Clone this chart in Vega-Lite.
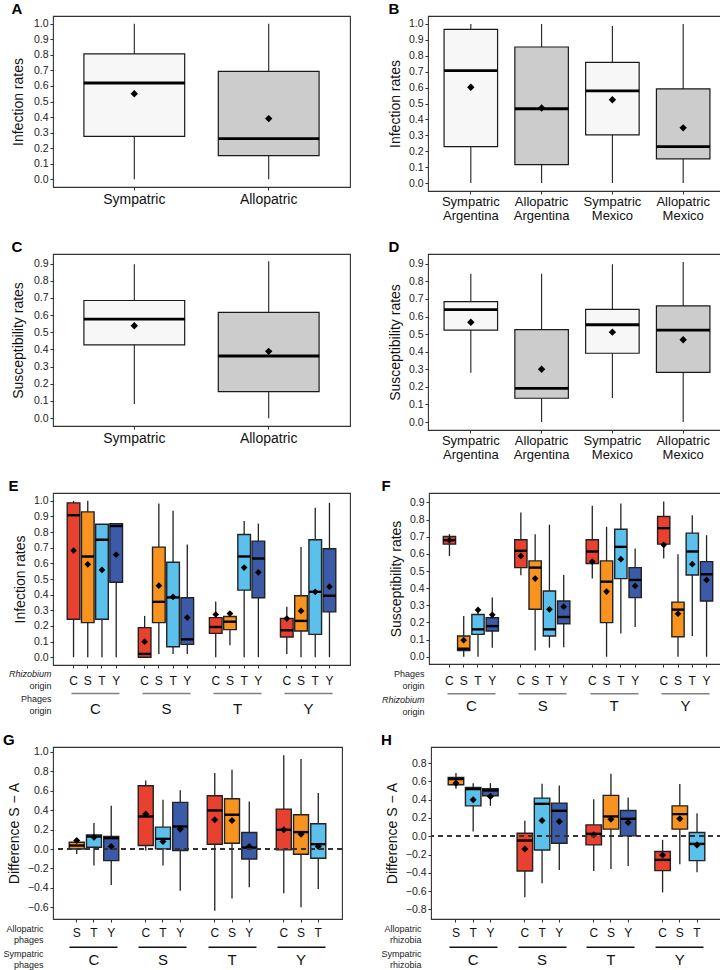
{
 "$schema": "https://vega.github.io/schema/vega-lite/v6.json",
 "padding": {"left": 2, "top": 1, "right": 2, "bottom": 0},
 "background": "white",
 "config": {
  "font": "Liberation Sans",
  "view": {"stroke": "#333", "strokeWidth": 1.1},
  "axis": {"grid": false, "domain": false, "tickColor": "#333", "labelColor": "#222", "titleColor": "#111", "titleFontWeight": "normal"},
  "axisY": {"labelFontSize": 10.5, "labelPadding": 2, "tickSize": 3, "titleFontSize": 14, "titlePadding": 6, "labelOverlap": false, "tickCount": 20},
  "axisX": {"tickSize": 3, "labelAngle": 0},
  "title": {"fontSize": 15, "fontWeight": "bold", "anchor": "start", "offset": -1, "color": "#000"}
 },
 "datasets": {
  "A": [
   {"cat": "Sympatric", "type": "Sympatric", "lo": 0, "q1": 0.276, "med": 0.619, "q3": 0.807, "hi": 1.0, "mean": 0.55},
   {"cat": "Allopatric", "type": "Allopatric", "lo": 0, "q1": 0.152, "med": 0.261, "q3": 0.694, "hi": 1.0, "mean": 0.39}
  ],
  "B": [
   {"cat": "Sympatric Argentina", "type": "Sympatric", "lo": 0, "q1": 0.229, "med": 0.707, "q3": 0.966, "hi": 1.0, "mean": 0.602},
   {"cat": "Allopatric Argentina", "type": "Allopatric", "lo": 0, "q1": 0.116, "med": 0.467, "q3": 0.855, "hi": 1.0, "mean": 0.472},
   {"cat": "Sympatric Mexico", "type": "Sympatric", "lo": 0, "q1": 0.303, "med": 0.579, "q3": 0.758, "hi": 0.987, "mean": 0.524},
   {"cat": "Allopatric Mexico", "type": "Allopatric", "lo": 0, "q1": 0.152, "med": 0.229, "q3": 0.592, "hi": 1.0, "mean": 0.347}
  ],
  "C": [
   {"cat": "Sympatric", "type": "Sympatric", "lo": 0.082, "q1": 0.427, "med": 0.577, "q3": 0.685, "hi": 0.896, "mean": 0.538},
   {"cat": "Allopatric", "type": "Allopatric", "lo": 0, "q1": 0.155, "med": 0.362, "q3": 0.616, "hi": 0.914, "mean": 0.389}
  ],
  "D": [
   {"cat": "Sympatric Argentina", "type": "Sympatric", "lo": 0.28, "q1": 0.523, "med": 0.639, "q3": 0.685, "hi": 0.843, "mean": 0.567},
   {"cat": "Allopatric Argentina", "type": "Allopatric", "lo": 0, "q1": 0.135, "med": 0.191, "q3": 0.525, "hi": 0.843, "mean": 0.30},
   {"cat": "Sympatric Mexico", "type": "Sympatric", "lo": 0.137, "q1": 0.391, "med": 0.553, "q3": 0.641, "hi": 0.897, "mean": 0.511},
   {"cat": "Allopatric Mexico", "type": "Allopatric", "lo": 0, "q1": 0.282, "med": 0.523, "q3": 0.66, "hi": 0.91, "mean": 0.468}
  ],
  "E": [
   {"key": "CC", "grp": "C", "sub": "C", "lo": 0, "q1": 0.243, "med": 0.908, "q3": 0.987, "hi": 1.0, "mean": 0.682},
   {"key": "CS", "grp": "C", "sub": "S", "lo": 0, "q1": 0.221, "med": 0.644, "q3": 0.929, "hi": 1.0, "mean": 0.594},
   {"key": "CT", "grp": "C", "sub": "T", "lo": 0, "q1": 0.243, "med": 0.751, "q3": 0.85, "hi": 0.85, "mean": 0.558},
   {"key": "CY", "grp": "C", "sub": "Y", "lo": 0, "q1": 0.479, "med": 0.839, "q3": 0.854, "hi": 0.854, "mean": 0.655},
   {"key": "SC", "grp": "S", "sub": "C", "lo": 0, "q1": 0.0, "med": 0.021, "q3": 0.189, "hi": 0.264, "mean": 0.099},
   {"key": "SS", "grp": "S", "sub": "S", "lo": 0.021, "q1": 0.221, "med": 0.354, "q3": 0.704, "hi": 0.983, "mean": 0.457},
   {"key": "ST", "grp": "S", "sub": "T", "lo": 0.021, "q1": 0.067, "med": 0.382, "q3": 0.607, "hi": 0.936, "mean": 0.386},
   {"key": "SY", "grp": "S", "sub": "Y", "lo": 0.021, "q1": 0.082, "med": 0.114, "q3": 0.38, "hi": 0.721, "mean": 0.253},
   {"key": "TC", "grp": "T", "sub": "C", "lo": 0, "q1": 0.152, "med": 0.193, "q3": 0.253, "hi": 0.356, "mean": 0.273},
   {"key": "TS", "grp": "T", "sub": "S", "lo": 0.077, "q1": 0.176, "med": 0.227, "q3": 0.26, "hi": 0.28, "mean": 0.279},
   {"key": "TT", "grp": "T", "sub": "T", "lo": 0, "q1": 0.429, "med": 0.644, "q3": 0.785, "hi": 0.871, "mean": 0.573},
   {"key": "TY", "grp": "T", "sub": "Y", "lo": 0, "q1": 0.38, "med": 0.631, "q3": 0.742, "hi": 0.854, "mean": 0.543},
   {"key": "YC", "grp": "Y", "sub": "C", "lo": 0.021, "q1": 0.129, "med": 0.172, "q3": 0.247, "hi": 0.322, "mean": 0.247},
   {"key": "YS", "grp": "Y", "sub": "S", "lo": 0, "q1": 0.167, "med": 0.232, "q3": 0.393, "hi": 0.704, "mean": 0.296},
   {"key": "YT", "grp": "Y", "sub": "T", "lo": 0, "q1": 0.146, "med": 0.418, "q3": 0.751, "hi": 0.955, "mean": 0.418},
   {"key": "YY", "grp": "Y", "sub": "Y", "lo": 0, "q1": 0.29, "med": 0.393, "q3": 0.693, "hi": 0.987, "mean": 0.451}
  ],
  "F": [
   {"key": "CC", "grp": "C", "sub": "C", "lo": 0.588, "q1": 0.657, "med": 0.68, "q3": 0.701, "hi": 0.715, "mean": 0.68},
   {"key": "CS", "grp": "C", "sub": "S", "lo": 0, "q1": 0.037, "med": 0.047, "q3": 0.121, "hi": 0.238, "mean": 0.097},
   {"key": "CT", "grp": "C", "sub": "T", "lo": 0, "q1": 0.131, "med": 0.16, "q3": 0.247, "hi": 0.28, "mean": 0.273},
   {"key": "CY", "grp": "C", "sub": "Y", "lo": 0.053, "q1": 0.15, "med": 0.179, "q3": 0.228, "hi": 0.345, "mean": 0.245},
   {"key": "SC", "grp": "S", "sub": "C", "lo": 0.475, "q1": 0.52, "med": 0.618, "q3": 0.682, "hi": 0.842, "mean": 0.588},
   {"key": "SS", "grp": "S", "sub": "S", "lo": 0.037, "q1": 0.277, "med": 0.52, "q3": 0.559, "hi": 0.715, "mean": 0.456},
   {"key": "ST", "grp": "S", "sub": "T", "lo": 0.053, "q1": 0.121, "med": 0.16, "q3": 0.384, "hi": 0.77, "mean": 0.277},
   {"key": "SY", "grp": "S", "sub": "Y", "lo": 0.056, "q1": 0.193, "med": 0.232, "q3": 0.325, "hi": 0.477, "mean": 0.292},
   {"key": "TC", "grp": "T", "sub": "C", "lo": 0.456, "q1": 0.544, "med": 0.614, "q3": 0.682, "hi": 0.881, "mean": 0.555},
   {"key": "TS", "grp": "T", "sub": "S", "lo": 0, "q1": 0.199, "med": 0.438, "q3": 0.559, "hi": 0.758, "mean": 0.38},
   {"key": "TT", "grp": "T", "sub": "T", "lo": 0.136, "q1": 0.456, "med": 0.641, "q3": 0.744, "hi": 0.894, "mean": 0.569},
   {"key": "TY", "grp": "T", "sub": "Y", "lo": 0.173, "q1": 0.345, "med": 0.448, "q3": 0.52, "hi": 0.631, "mean": 0.413},
   {"key": "YC", "grp": "Y", "sub": "C", "lo": 0.573, "q1": 0.657, "med": 0.75, "q3": 0.818, "hi": 0.906, "mean": 0.653},
   {"key": "YS", "grp": "Y", "sub": "S", "lo": 0, "q1": 0.117, "med": 0.275, "q3": 0.319, "hi": 0.598, "mean": 0.251},
   {"key": "YT", "grp": "Y", "sub": "T", "lo": 0.121, "q1": 0.477, "med": 0.614, "q3": 0.721, "hi": 0.826, "mean": 0.54},
   {"key": "YY", "grp": "Y", "sub": "Y", "lo": 0, "q1": 0.325, "med": 0.481, "q3": 0.555, "hi": 0.709, "mean": 0.448}
  ],
  "G": [
   {"key": "CS", "grp": "C", "sub": "S", "lo": -0.05, "q1": 0.0, "med": 0.036, "q3": 0.07, "hi": 0.09, "mean": 0.088},
   {"key": "CT", "grp": "C", "sub": "T", "lo": -0.17, "q1": 0.019, "med": 0.129, "q3": 0.146, "hi": 0.267, "mean": 0.122},
   {"key": "CY", "grp": "C", "sub": "Y", "lo": -0.37, "q1": -0.119, "med": 0.112, "q3": 0.129, "hi": 0.446, "mean": 0.026},
   {"key": "SC", "grp": "S", "sub": "C", "lo": -0.015, "q1": 0.036, "med": 0.335, "q3": 0.652, "hi": 0.704, "mean": 0.36},
   {"key": "ST", "grp": "S", "sub": "T", "lo": -0.17, "q1": 0.002, "med": 0.105, "q3": 0.225, "hi": 0.508, "mean": 0.077},
   {"key": "SY", "grp": "S", "sub": "Y", "lo": -0.43, "q1": -0.015, "med": 0.232, "q3": 0.48, "hi": 0.604, "mean": 0.205},
   {"key": "TC", "grp": "T", "sub": "C", "lo": -0.635, "q1": 0.05, "med": 0.397, "q3": 0.549, "hi": 0.783, "mean": 0.301},
   {"key": "TS", "grp": "T", "sub": "S", "lo": -0.508, "q1": 0.06, "med": 0.353, "q3": 0.518, "hi": 0.817, "mean": 0.294},
   {"key": "TY", "grp": "T", "sub": "Y", "lo": -0.394, "q1": -0.102, "med": 0.015, "q3": 0.17, "hi": 0.49, "mean": 0.026},
   {"key": "YC", "grp": "Y", "sub": "C", "lo": -0.456, "q1": -0.009, "med": 0.198, "q3": 0.411, "hi": 0.965, "mean": 0.198},
   {"key": "YS", "grp": "Y", "sub": "S", "lo": -0.6, "q1": -0.053, "med": 0.174, "q3": 0.353, "hi": 0.927, "mean": 0.153},
   {"key": "YT", "grp": "Y", "sub": "T", "lo": -0.411, "q1": -0.095, "med": 0.05, "q3": 0.26, "hi": 0.576, "mean": 0.026}
  ],
  "H": [
   {"key": "CS", "grp": "C", "sub": "S", "lo": 0.519, "q1": 0.563, "med": 0.625, "q3": 0.643, "hi": 0.69, "mean": 0.58},
   {"key": "CT", "grp": "C", "sub": "T", "lo": 0.051, "q1": 0.332, "med": 0.515, "q3": 0.533, "hi": 0.58, "mean": 0.398},
   {"key": "CY", "grp": "C", "sub": "Y", "lo": 0.332, "q1": 0.442, "med": 0.50, "q3": 0.519, "hi": 0.58, "mean": 0.435},
   {"key": "SC", "grp": "S", "sub": "C", "lo": -0.668, "q1": -0.38, "med": -0.047, "q3": 0.033, "hi": 0.168, "mean": -0.139},
   {"key": "ST", "grp": "S", "sub": "T", "lo": -0.515, "q1": -0.15, "med": 0.354, "q3": 0.416, "hi": 0.574, "mean": 0.172},
   {"key": "SY", "grp": "S", "sub": "Y", "lo": -0.369, "q1": -0.077, "med": 0.278, "q3": 0.362, "hi": 0.555, "mean": 0.161},
   {"key": "TC", "grp": "T", "sub": "C", "lo": -0.38, "q1": -0.095, "med": 0.026, "q3": 0.124, "hi": 0.405, "mean": 0.015},
   {"key": "TS", "grp": "T", "sub": "S", "lo": -0.358, "q1": 0.077, "med": 0.216, "q3": 0.446, "hi": 0.683, "mean": 0.186},
   {"key": "TY", "grp": "T", "sub": "Y", "lo": -0.325, "q1": 0.004, "med": 0.19, "q3": 0.281, "hi": 0.424, "mean": 0.15},
   {"key": "YC", "grp": "Y", "sub": "C", "lo": -0.614, "q1": -0.376, "med": -0.259, "q3": -0.168, "hi": -0.04, "mean": -0.205},
   {"key": "YS", "grp": "Y", "sub": "S", "lo": -0.307, "q1": 0.077, "med": 0.241, "q3": 0.332, "hi": 0.57, "mean": 0.19},
   {"key": "YT", "grp": "Y", "sub": "T", "lo": -0.395, "q1": -0.267, "med": -0.084, "q3": 0.04, "hi": 0.252, "mean": -0.095}
  ]
 },
 "resolve": {"scale": {"fill": "independent"}},
 "spacing": 13,
 "vconcat": [
  {"spacing": 16, "resolve": {"scale": {"fill": "independent"}}, "vconcat": [
  {"spacing": 36, "hconcat": [
   {"title": "A", "width": 297, "height": 171, "data": {"name": "A"},
    "encoding": {"x": {"field": "cat", "type": "nominal", "sort": null, "scale": {"domain": ["Sympatric", "Allopatric"], "paddingInner": 0.25, "paddingOuter": 0.23}, "axis": {"title": null, "labelFontSize": 14, "labelPadding": 2, "labelColor": "#111"}}},
    "layer": [
     {"mark": {"type": "rule", "color": "#222", "strokeWidth": 1.1}, "encoding": {"y": {"field": "lo", "type": "quantitative", "title": "Infection rates", "scale": {"domain": [-0.05, 1.05], "nice": false, "zero": false}, "axis": {"values": [0, 0.1, 0.2, 0.3, 0.4, 0.5, 0.6, 0.7, 0.8, 0.9, 1], "tickCount": 20, "format": ".1f", "labelOverlap": false, "titlePadding": 8}}, "y2": {"field": "hi"}}},
     {"mark": {"type": "bar", "stroke": "#1a1a1a", "strokeWidth": 1.2}, "encoding": {"y": {"field": "q1", "type": "quantitative", "title": "Infection rates"}, "y2": {"field": "q3"}, "fill": {"field": "type", "type": "nominal", "scale": {"domain": ["Sympatric", "Allopatric"], "range": ["#f7f7f7", "#cccccc"]}, "legend": null}}},
     {"mark": {"type": "tick", "color": "#000", "thickness": 2.8, "size": 101, "opacity": 1}, "encoding": {"y": {"field": "med", "type": "quantitative", "title": "Infection rates"}}},
     {"mark": {"type": "point", "shape": "diamond", "filled": true, "color": "#000", "size": 55, "opacity": 1}, "encoding": {"y": {"field": "mean", "type": "quantitative", "title": "Infection rates"}}}
    ]},
   {"title": "B", "width": 298, "height": 175, "data": {"name": "B"},
    "encoding": {"x": {"field": "cat", "type": "nominal", "sort": null, "scale": {"domain": ["Sympatric Argentina", "Allopatric Argentina", "Sympatric Mexico", "Allopatric Mexico"], "paddingInner": 0.244, "paddingOuter": 0.227}, "axis": {"title": null, "labelFontSize": 13, "labelPadding": 1, "labelColor": "#111", "labelExpr": "split(datum.value, ' ')", "labelLineHeight": 14}}},
    "layer": [
     {"mark": {"type": "rule", "color": "#222", "strokeWidth": 1.1}, "encoding": {"y": {"field": "lo", "type": "quantitative", "title": "Infection rates", "scale": {"domain": [-0.05, 1.05], "nice": false, "zero": false}, "axis": {"values": [0, 0.1, 0.2, 0.3, 0.4, 0.5, 0.6, 0.7, 0.8, 0.9, 1], "tickCount": 20, "format": ".1f", "labelOverlap": false}}, "y2": {"field": "hi"}}},
     {"mark": {"type": "bar", "stroke": "#1a1a1a", "strokeWidth": 1.2}, "encoding": {"y": {"field": "q1", "type": "quantitative", "title": "Infection rates"}, "y2": {"field": "q3"}, "fill": {"field": "type", "type": "nominal", "scale": {"domain": ["Sympatric", "Allopatric"], "range": ["#f7f7f7", "#cccccc"]}, "legend": null}}},
     {"mark": {"type": "tick", "color": "#000", "thickness": 2.8, "size": 53.5, "opacity": 1}, "encoding": {"y": {"field": "med", "type": "quantitative", "title": "Infection rates"}}},
     {"mark": {"type": "point", "shape": "diamond", "filled": true, "color": "#000", "size": 55, "opacity": 1}, "encoding": {"y": {"field": "mean", "type": "quantitative", "title": "Infection rates"}}}
    ]}
  ]},
  {"spacing": 36, "hconcat": [
   {"title": "C", "width": 297, "height": 172, "data": {"name": "C"},
    "encoding": {"x": {"field": "cat", "type": "nominal", "sort": null, "scale": {"domain": ["Sympatric", "Allopatric"], "paddingInner": 0.25, "paddingOuter": 0.23}, "axis": {"title": null, "labelFontSize": 14, "labelPadding": 2, "labelColor": "#111"}}},
    "layer": [
     {"mark": {"type": "rule", "color": "#222", "strokeWidth": 1.1}, "encoding": {"y": {"field": "lo", "type": "quantitative", "title": "Susceptibility rates", "scale": {"domain": [-0.0455, 0.9555], "nice": false, "zero": false}, "axis": {"values": [0, 0.1, 0.2, 0.3, 0.4, 0.5, 0.6, 0.7, 0.8, 0.9], "tickCount": 20, "format": ".1f", "labelOverlap": false, "titlePadding": 8}}, "y2": {"field": "hi"}}},
     {"mark": {"type": "bar", "stroke": "#1a1a1a", "strokeWidth": 1.2}, "encoding": {"y": {"field": "q1", "type": "quantitative", "title": "Susceptibility rates"}, "y2": {"field": "q3"}, "fill": {"field": "type", "type": "nominal", "scale": {"domain": ["Sympatric", "Allopatric"], "range": ["#f7f7f7", "#cccccc"]}, "legend": null}}},
     {"mark": {"type": "tick", "color": "#000", "thickness": 2.8, "size": 101, "opacity": 1}, "encoding": {"y": {"field": "med", "type": "quantitative", "title": "Susceptibility rates"}}},
     {"mark": {"type": "point", "shape": "diamond", "filled": true, "color": "#000", "size": 55, "opacity": 1}, "encoding": {"y": {"field": "mean", "type": "quantitative", "title": "Susceptibility rates"}}}
    ]},
   {"title": "D", "width": 298, "height": 176, "data": {"name": "D"},
    "encoding": {"x": {"field": "cat", "type": "nominal", "sort": null, "scale": {"domain": ["Sympatric Argentina", "Allopatric Argentina", "Sympatric Mexico", "Allopatric Mexico"], "paddingInner": 0.244, "paddingOuter": 0.227}, "axis": {"title": null, "labelFontSize": 13, "labelPadding": 1, "labelColor": "#111", "labelExpr": "split(datum.value, ' ')", "labelLineHeight": 14}}},
    "layer": [
     {"mark": {"type": "rule", "color": "#222", "strokeWidth": 1.1}, "encoding": {"y": {"field": "lo", "type": "quantitative", "title": "Susceptibility rates", "scale": {"domain": [-0.0455, 0.9555], "nice": false, "zero": false}, "axis": {"values": [0, 0.1, 0.2, 0.3, 0.4, 0.5, 0.6, 0.7, 0.8, 0.9], "tickCount": 20, "format": ".1f", "labelOverlap": false}}, "y2": {"field": "hi"}}},
     {"mark": {"type": "bar", "stroke": "#1a1a1a", "strokeWidth": 1.2}, "encoding": {"y": {"field": "q1", "type": "quantitative", "title": "Susceptibility rates"}, "y2": {"field": "q3"}, "fill": {"field": "type", "type": "nominal", "scale": {"domain": ["Sympatric", "Allopatric"], "range": ["#f7f7f7", "#cccccc"]}, "legend": null}}},
     {"mark": {"type": "tick", "color": "#000", "thickness": 2.8, "size": 53.5, "opacity": 1}, "encoding": {"y": {"field": "med", "type": "quantitative", "title": "Susceptibility rates"}}},
     {"mark": {"type": "point", "shape": "diamond", "filled": true, "color": "#000", "size": 55, "opacity": 1}, "encoding": {"y": {"field": "mean", "type": "quantitative", "title": "Susceptibility rates"}}}
    ]}
  ]},
  {"spacing": 29, "hconcat": [
   {"title": "E", "width": 297, "height": 172, "data": {"name": "E"},
    "resolve": {"axis": {"x": "independent"}},
    "layer": [
     {"mark": {"type": "rule", "color": "#222", "strokeWidth": 1.3}, "encoding": {
       "x": {"field": "key", "type": "nominal", "scale": {"domain": ["CC", "CS", "CT", "CY", "_1", "SC", "SS", "ST", "SY", "_2", "TC", "TS", "TT", "TY", "_3", "YC", "YS", "YT", "YY"], "paddingInner": 0.11, "paddingOuter": 1.105},
        "axis": {"orient": "bottom", "values": ["CC", "CS", "CT", "CY", "SC", "SS", "ST", "SY", "TC", "TS", "TT", "TY", "YC", "YS", "YT", "YY"], "labelExpr": "substring(datum.value, 1, 2)", "labelFontSize": 12, "labelPadding": 7.6, "labelColor": "#111", "title": "Rhizobium", "titleFontStyle": "italic", "titleFontSize": 9, "titleAngle": 0, "titleAlign": "right", "titleBaseline": "top", "titleX": -2, "titleY": 4.5, "titleColor": "#222"}},
       "y": {"field": "lo", "type": "quantitative", "title": "Infection rates", "scale": {"domain": [-0.05, 1.05], "nice": false, "zero": false}, "axis": {"values": [0, 0.1, 0.2, 0.3, 0.4, 0.5, 0.6, 0.7, 0.8, 0.9, 1], "tickCount": 20, "format": ".1f", "labelOverlap": false}}, "y2": {"field": "hi"}}},
     {"mark": {"type": "bar", "stroke": "#222", "strokeWidth": 1.4}, "encoding": {
       "x": {"field": "key", "type": "nominal", "axis": {"orient": "bottom", "values": ["CS", "SS", "TS", "YS"], "tickOffset": 7.05, "offset": 27.3, "ticks": true, "tickSize": 1.5, "tickWidth": 48, "tickColor": "#808080", "labelExpr": "substring(datum.value, 0, 1)", "labelFontSize": 15, "labelColor": "#111", "labelBaseline": "alphabetic", "labelPadding": 19.6, "title": ["Phages", "origin"], "titleLineHeight": 12, "titleFontSize": 9, "titleAngle": 0, "titleAlign": "right", "titleBaseline": "top", "titleX": -2, "titleY": 2.2, "titleColor": "#222"}},
       "y": {"field": "q1", "type": "quantitative", "title": "Infection rates"}, "y2": {"field": "q3"}, "fill": {"field": "sub", "type": "nominal", "scale": {"domain": ["C", "S", "T", "Y"], "range": ["#E8412F", "#F7931E", "#5BC0EB", "#3B5BA9"]}, "legend": null}}},
     {"mark": {"type": "tick", "color": "#000", "thickness": 2.4, "size": 12.6, "opacity": 1}, "encoding": {
       "x": {"field": "key", "type": "nominal", "axis": {"orient": "bottom", "labels": false, "ticks": false, "title": "origin", "titleFontSize": 9, "titleAngle": 0, "titleAlign": "right", "titleBaseline": "top", "titleX": -2, "titleY": 16.5, "titleColor": "#222"}},
       "y": {"field": "med", "type": "quantitative", "title": "Infection rates"}}},
     {"mark": {"type": "point", "shape": "diamond", "filled": true, "color": "#000", "size": 45, "opacity": 1}, "encoding": {
       "x": {"field": "key", "type": "nominal", "axis": null},
       "y": {"field": "mean", "type": "quantitative", "title": "Infection rates"}}}
    ]},
   {"title": "F", "width": 298, "height": 171, "data": {"name": "F"},
    "resolve": {"axis": {"x": "independent"}},
    "layer": [
     {"mark": {"type": "rule", "color": "#222", "strokeWidth": 1.3}, "encoding": {
       "x": {"field": "key", "type": "nominal", "scale": {"domain": ["CC", "CS", "CT", "CY", "_1", "SC", "SS", "ST", "SY", "_2", "TC", "TS", "TT", "TY", "_3", "YC", "YS", "YT", "YY"], "paddingInner": 0.14, "paddingOuter": 1.035},
        "axis": {"orient": "bottom", "values": ["CC", "CS", "CT", "CY", "SC", "SS", "ST", "SY", "TC", "TS", "TT", "TY", "YC", "YS", "YT", "YY"], "labelExpr": "substring(datum.value, 1, 2)", "labelFontSize": 12, "labelPadding": 8.6, "labelColor": "#111", "title": ["Phages", "origin"], "titleLineHeight": 12.5, "titleFontSize": 9, "titleAngle": 0, "titleAlign": "right", "titleBaseline": "top", "titleX": -5, "titleY": 5, "titleColor": "#222"}},
       "y": {"field": "lo", "type": "quantitative", "title": "Susceptibility rates", "scale": {"domain": [-0.042, 0.955], "nice": false, "zero": false}, "axis": {"values": [0, 0.1, 0.2, 0.3, 0.4, 0.5, 0.6, 0.7, 0.8, 0.9], "tickCount": 20, "format": ".1f", "labelOverlap": false}}, "y2": {"field": "hi"}}},
     {"mark": {"type": "bar", "stroke": "#222", "strokeWidth": 1.4}, "encoding": {
       "x": {"field": "key", "type": "nominal", "axis": {"orient": "bottom", "values": ["CS", "SS", "TS", "YS"], "tickOffset": 7.12, "offset": 28.6, "ticks": true, "tickSize": 1.5, "tickWidth": 48, "tickColor": "#808080", "labelExpr": "substring(datum.value, 0, 1)", "labelFontSize": 15, "labelColor": "#111", "labelBaseline": "alphabetic", "labelPadding": 16.3, "title": "origin", "titleFontSize": 9, "titleAngle": 0, "titleAlign": "right", "titleBaseline": "top", "titleX": -5, "titleY": 14.4, "titleColor": "#222"}},
       "y": {"field": "q1", "type": "quantitative", "title": "Susceptibility rates"}, "y2": {"field": "q3"}, "fill": {"field": "sub", "type": "nominal", "scale": {"domain": ["C", "S", "T", "Y"], "range": ["#E8412F", "#F7931E", "#5BC0EB", "#3B5BA9"]}, "legend": null}}},
     {"mark": {"type": "tick", "color": "#000", "thickness": 2.4, "size": 12.2, "opacity": 1}, "encoding": {
       "x": {"field": "key", "type": "nominal", "axis": {"orient": "bottom", "labels": false, "ticks": false, "title": "Rhizobium", "titleFontStyle": "italic", "titleFontSize": 9, "titleAngle": 0, "titleAlign": "right", "titleBaseline": "top", "titleX": -5, "titleY": 31.5, "titleColor": "#222"}},
       "y": {"field": "med", "type": "quantitative", "title": "Susceptibility rates"}}},
     {"mark": {"type": "point", "shape": "diamond", "filled": true, "color": "#000", "size": 45, "opacity": 1}, "encoding": {
       "x": {"field": "key", "type": "nominal", "axis": null},
       "y": {"field": "mean", "type": "quantitative", "title": "Susceptibility rates"}}}
    ]}
  ]}
  ]},
  {"spacing": 36, "hconcat": [
   {"title": "G", "width": 289, "height": 172, "data": {"name": "G"},
    "resolve": {"axis": {"x": "independent"}},
    "layer": [
     {"mark": {"type": "rule", "color": "#222", "strokeWidth": 1.3}, "encoding": {
       "x": {"field": "key", "type": "nominal", "scale": {"domain": ["CS", "CT", "CY", "_1", "SC", "ST", "SY", "_2", "TC", "TS", "TY", "_3", "YC", "YS", "YT"], "paddingInner": 0.13, "paddingOuter": 0.94},
        "axis": {"orient": "bottom", "values": ["CS", "CT", "CY", "SC", "ST", "SY", "TC", "TS", "TY", "YC", "YS", "YT"], "labelExpr": "substring(datum.value, 1, 2)", "labelFontSize": 12, "labelPadding": 5.1, "labelColor": "#111", "title": ["Allopatric", "phages"], "titleLineHeight": 10.5, "titleFontSize": 9, "titleAngle": 0, "titleAlign": "right", "titleBaseline": "top", "titleX": -10, "titleY": 5.5, "titleColor": "#222"}},
       "y": {"field": "lo", "type": "quantitative", "title": "Difference S − A", "scale": {"domain": [-0.72, 1.05], "nice": false, "zero": false}, "axis": {"values": [-0.6, -0.4, -0.2, 0, 0.2, 0.4, 0.6, 0.8, 1.0], "tickCount": 20, "format": ".1f", "labelOverlap": false}}, "y2": {"field": "hi"}}},
     {"mark": {"type": "bar", "stroke": "#222", "strokeWidth": 1.4}, "encoding": {
       "x": {"field": "key", "type": "nominal", "axis": {"orient": "bottom", "values": ["CT", "ST", "TS", "YS"], "offset": 27, "ticks": true, "tickSize": 1.5, "tickWidth": 48, "tickColor": "#111", "labelExpr": "substring(datum.value, 0, 1)", "labelFontSize": 15, "labelColor": "#111", "labelBaseline": "alphabetic", "labelPadding": 16.9, "title": ["Sympatric", "phages"], "titleLineHeight": 10.5, "titleFontSize": 9, "titleAngle": 0, "titleAlign": "right", "titleBaseline": "top", "titleX": -10, "titleY": 3.5, "titleColor": "#222"}},
       "y": {"field": "q1", "type": "quantitative", "title": "Difference S − A"}, "y2": {"field": "q3"}, "fill": {"field": "sub", "type": "nominal", "scale": {"domain": ["C", "S", "T", "Y"], "range": ["#E8412F", "#F7931E", "#5BC0EB", "#3B5BA9"]}, "legend": null}}},
     {"mark": {"type": "tick", "color": "#000", "thickness": 2.4, "size": 15, "opacity": 1}, "encoding": {
       "x": {"field": "key", "type": "nominal", "axis": null},
       "y": {"field": "med", "type": "quantitative", "title": "Difference S − A"}}},
     {"mark": {"type": "point", "shape": "diamond", "filled": true, "color": "#000", "size": 50, "opacity": 1}, "encoding": {
       "x": {"field": "key", "type": "nominal", "axis": null},
       "y": {"field": "mean", "type": "quantitative", "title": "Difference S − A"}}},
     {"mark": {"type": "rule", "color": "#333", "strokeWidth": 1.1, "strokeDash": [5, 4]}, "encoding": {"y": {"datum": 0, "type": "quantitative"}}}
    ]},
   {"title": "H", "width": 291, "height": 172, "data": {"name": "H"},
    "resolve": {"axis": {"x": "independent"}},
    "layer": [
     {"mark": {"type": "rule", "color": "#222", "strokeWidth": 1.3}, "encoding": {
       "x": {"field": "key", "type": "nominal", "scale": {"domain": ["CS", "CT", "CY", "_1", "SC", "ST", "SY", "_2", "TC", "TS", "TY", "_3", "YC", "YS", "YT"], "paddingInner": 0.1, "paddingOuter": 1.014},
        "axis": {"orient": "bottom", "values": ["CS", "CT", "CY", "SC", "ST", "SY", "TC", "TS", "TY", "YC", "YS", "YT"], "labelExpr": "substring(datum.value, 1, 2)", "labelFontSize": 12, "labelPadding": 5.1, "labelColor": "#111", "title": ["Allopatric", "rhizobia"], "titleLineHeight": 10.5, "titleFontSize": 9, "titleAngle": 0, "titleAlign": "right", "titleBaseline": "top", "titleX": -10, "titleY": 5.5, "titleColor": "#222"}},
       "y": {"field": "lo", "type": "quantitative", "title": "Difference S − A", "scale": {"domain": [-0.905, 0.975], "nice": false, "zero": false}, "axis": {"values": [-0.8, -0.6, -0.4, -0.2, 0, 0.2, 0.4, 0.6, 0.8], "tickCount": 20, "format": ".1f", "labelOverlap": false}}, "y2": {"field": "hi"}}},
     {"mark": {"type": "bar", "stroke": "#222", "strokeWidth": 1.4}, "encoding": {
       "x": {"field": "key", "type": "nominal", "axis": {"orient": "bottom", "values": ["CT", "ST", "TS", "YS"], "offset": 27, "ticks": true, "tickSize": 1.5, "tickWidth": 48, "tickColor": "#111", "labelExpr": "substring(datum.value, 0, 1)", "labelFontSize": 15, "labelColor": "#111", "labelBaseline": "alphabetic", "labelPadding": 16.9, "title": ["Sympatric", "rhizobia"], "titleLineHeight": 10.5, "titleFontSize": 9, "titleAngle": 0, "titleAlign": "right", "titleBaseline": "top", "titleX": -10, "titleY": 3.5, "titleColor": "#222"}},
       "y": {"field": "q1", "type": "quantitative", "title": "Difference S − A"}, "y2": {"field": "q3"}, "fill": {"field": "sub", "type": "nominal", "scale": {"domain": ["C", "S", "T", "Y"], "range": ["#E8412F", "#F7931E", "#5BC0EB", "#3B5BA9"]}, "legend": null}}},
     {"mark": {"type": "tick", "color": "#000", "thickness": 2.4, "size": 15.5, "opacity": 1}, "encoding": {
       "x": {"field": "key", "type": "nominal", "axis": null},
       "y": {"field": "med", "type": "quantitative", "title": "Difference S − A"}}},
     {"mark": {"type": "point", "shape": "diamond", "filled": true, "color": "#000", "size": 50, "opacity": 1}, "encoding": {
       "x": {"field": "key", "type": "nominal", "axis": null},
       "y": {"field": "mean", "type": "quantitative", "title": "Difference S − A"}}},
     {"mark": {"type": "rule", "color": "#333", "strokeWidth": 1.1, "strokeDash": [5, 4]}, "encoding": {"y": {"datum": 0, "type": "quantitative"}}}
    ]}
  ]}
 ]
}
